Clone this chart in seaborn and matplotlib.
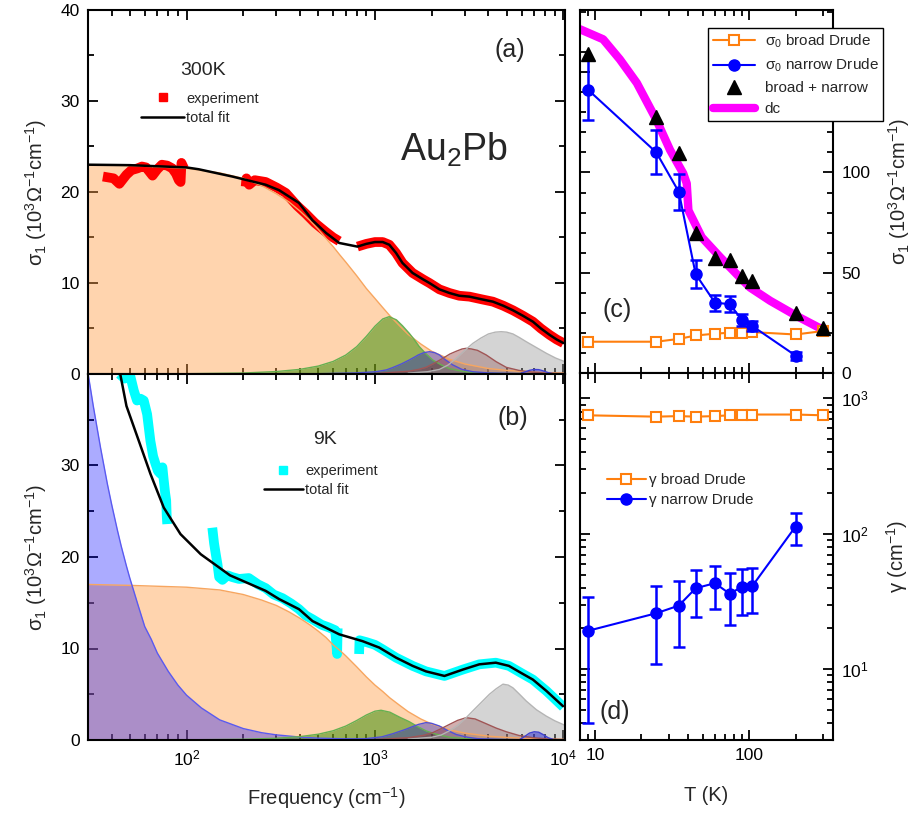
import matplotlib
matplotlib.use('Agg')
import matplotlib.pyplot as plt
from matplotlib.lines import Line2D
from matplotlib.ticker import MultipleLocator, FixedLocator, NullFormatter, FuncFormatter, LogLocator
import seaborn as sns

# ---------------- data ----------------
# broad Drude term, panels (a) 300 K and (b) 9 K  (cm-1, 10^3 Ohm-1 cm-1)
f_drude = [30, 50, 100, 150, 200, 250, 300, 350, 400, 450, 500, 550, 600, 650, 700, 800, 900, 1000, 1100,
           1200, 1350, 1500, 1750, 2000, 2500, 3000, 4000, 5000, 7000, 10000]
broad_a = [23.0, 22.9, 22.6, 22.1, 21.5, 20.7, 19.8, 18.9, 17.9, 16.9, 15.9, 14.9, 14.0, 13.1, 12.3, 10.8, 9.4,
           8.3, 7.3, 6.4, 5.3, 4.35, 3.3, 2.5, 1.6, 1.1, 0.6, 0.4, 0.2, 0.1]
broad_b = [17.0, 16.9, 16.7, 16.4, 15.9, 15.3, 14.7, 14.0, 13.3, 12.6, 11.9, 11.2, 10.4, 9.8, 9.2, 8.0, 6.9,
           6.0, 5.3, 4.6, 3.8, 3.1, 2.3, 1.75, 1.1, 0.75, 0.42, 0.28, 0.14, 0.07]

# narrow Drude term, panel (b)
f_narrow = [30, 32, 35, 38, 40, 43, 45, 48, 50, 55, 60, 65, 70, 80, 90, 100, 120, 150, 200, 250, 300, 400,
            500, 1000, 3000, 10000]
narrow_b = [40.1, 36.5, 31.9, 28.0, 25.8, 22.9, 21.2, 19.0, 17.7, 14.9, 12.4, 11.0, 9.5, 7.5, 6.0, 4.9, 3.5,
            2.2, 1.25, 0.8, 0.56, 0.32, 0.2, 0.05, 0.01, 0.0]

# Lorentz terms
f_green_a = [100, 200, 300, 400, 500, 600, 700, 800, 900, 1000, 1100, 1190, 1300, 1400, 1521, 1600, 1720,
             1850, 2025, 2250, 2483, 2900, 3310, 5000, 10000]
green_a = [0.03, 0.11, 0.27, 0.51, 0.87, 1.38, 2.08, 3.0, 4.13, 5.25, 6.05, 6.3, 5.95, 5.3, 4.47, 3.9, 3.0,
           2.3, 1.54, 1.0, 0.6, 0.3, 0.15, 0.05, 0.01]
f_green_b = [100, 200, 300, 400, 500, 600, 700, 800, 900, 1000, 1077, 1200, 1350, 1521, 1700, 1866, 2100,
             2483, 3000, 4000, 6000, 10000]
green_b = [0.02, 0.08, 0.19, 0.37, 0.63, 1.01, 1.52, 2.13, 2.73, 3.15, 3.25, 3.04, 2.5, 2.0, 1.42, 1.0, 0.65,
           0.3, 0.15, 0.07, 0.03, 0.01]

f_blue_a = [500, 800, 1012, 1150, 1240, 1380, 1521, 1620, 1700, 1820, 1945, 2070, 2197, 2350, 2587, 2900,
            3310, 4000, 6000, 10000]
blue_a = [0.03, 0.12, 0.25, 0.45, 0.7, 1.1, 1.54, 1.85, 2.1, 2.35, 2.45, 2.35, 2.1, 1.6, 1.0, 0.5, 0.25, 0.12,
          0.04, 0.01]
f_blue_b = [500, 900, 1090, 1250, 1458, 1600, 1700, 1866, 2000, 2197, 2450, 2700, 3100, 3500, 5000, 10000]
blue_b = [0.03, 0.15, 0.35, 0.7, 1.17, 1.5, 1.7, 1.9, 1.82, 1.53, 1.0, 0.6, 0.3, 0.15, 0.05, 0.01]

f_brown_a = [1000, 1500, 1700, 1866, 2050, 2290, 2500, 2700, 2900, 3048, 3250, 3500, 3890, 4400, 4977, 5800,
             6890, 8500, 10000]
brown_a = [0.05, 0.3, 0.5, 0.73, 1.15, 1.72, 2.2, 2.5, 2.75, 2.82, 2.75, 2.6, 2.1, 1.35, 0.73, 0.4, 0.2, 0.08,
           0.05]
f_brown_b = [1000, 1500, 1800, 2025, 2250, 2483, 2750, 3048, 3400, 3890, 4400, 4977, 5800, 6890, 8500, 10000]
brown_b = [0.05, 0.25, 0.5, 0.8, 1.25, 1.7, 2.15, 2.44, 2.3, 1.78, 1.3, 0.9, 0.5, 0.25, 0.1, 0.05]

f_grey_a = [1500, 1900, 2197, 2450, 2700, 3000, 3310, 3650, 4000, 4350, 4677, 5000, 5400, 5850, 6350, 7200,
            8130, 9100, 10200]
grey_a = [0.1, 0.25, 0.5, 1.0, 1.72, 2.6, 3.37, 3.95, 4.4, 4.6, 4.65, 4.6, 4.4, 4.0, 3.55, 2.9, 2.27, 1.75, 1.35]
f_grey_b = [1500, 2000, 2250, 2483, 2750, 3048, 3350, 3730, 4050, 4400, 4782, 5100, 5400, 5850, 6350, 7200,
            8130, 9000, 10200]
grey_b = [0.1, 0.3, 0.55, 1.0, 1.6, 2.44, 3.3, 4.26, 5.0, 5.6, 6.1, 6.0, 5.7, 5.0, 4.26, 3.3, 2.6, 2.1, 1.6]

f_small = [5800, 6200, 6600, 7000, 7400, 7800, 8300, 9000]
small_a = [0.0, 0.2, 0.4, 0.5, 0.48, 0.35, 0.15, 0.0]
small_b = [0.0, 0.35, 0.75, 0.9, 0.85, 0.6, 0.25, 0.0]

# total fits
f_fit_a = [30, 50, 100, 116, 175, 263, 310, 395, 466, 550, 646, 807, 900, 1000, 1100, 1192, 1294, 1400,
           1585, 1800, 1945, 2200, 2485, 2800, 3175, 3700, 4226, 4800, 5400, 6100, 6890, 7600, 8450, 9200, 10000]
fit_a = [23.0, 22.95, 22.7, 22.5, 21.7, 20.8, 20.2, 18.8, 16.9, 15.5, 14.4, 14.0, 14.3, 14.5, 14.5, 14.2, 13.3,
         12.2, 11.1, 10.4, 10.0, 9.3, 8.9, 8.6, 8.5, 8.2, 7.95, 7.5, 7.0, 6.4, 5.75, 5.0, 4.3, 3.8, 3.4]
f_fit_b = [44, 48, 55.8, 64.3, 75.7, 92.9, 119, 170, 263, 310, 395, 466, 646, 860, 1054, 1294, 1585, 1866,
           2338, 2930, 3580, 4380, 5140, 6000, 6890, 8130, 9950]
fit_b = [40.5, 36.5, 32.7, 29.1, 25.4, 22.5, 20.3, 18.0, 16.3, 15.4, 14.3, 13.0, 11.55, 10.8, 10.1, 9.0, 8.1,
         7.5, 7.0, 7.7, 8.27, 8.45, 8.1, 7.3, 6.6, 5.36, 3.7]

# experiment, in pieces (gaps in the measured ranges)
exp_a_f1 = [36, 41, 44, 48, 51, 55, 58, 61, 66, 70, 74, 79, 84, 88, 91, 93, 94, 97]
exp_a_v1 = [21.7, 21.5, 20.9, 21.9, 22.4, 22.6, 22.8, 22.7, 21.8, 22.5, 23.0, 22.9, 22.6, 22.0, 21.3, 21.1, 23.2,
            22.6]
exp_a_f2 = [206, 208, 215, 230, 263, 300, 336, 386, 430, 480, 550, 600, 646]
exp_a_v2 = [20.6, 21.5, 20.8, 21.3, 21.1, 20.5, 19.9, 18.5, 17.6, 16.6, 15.6, 15.0, 14.6]
exp_a_f3 = [807, 900, 1000, 1100, 1192, 1294, 1400, 1585, 1800, 1945, 2200, 2485, 2800, 3175, 3700, 4226,
            4800, 5400, 6100, 6890, 7600, 8450, 9200, 10000]
exp_a_v3 = [14.0, 14.3, 14.5, 14.5, 14.2, 13.3, 12.2, 11.1, 10.4, 10.0, 9.3, 8.9, 8.6, 8.5, 8.2, 7.95,
            7.5, 7.0, 6.4, 5.75, 5.0, 4.3, 3.8, 3.4]

exp_b_f1 = [44, 47, 50, 52.5, 54.6, 57, 59.3, 61.8, 64.3, 66.5, 68.4, 70.5, 72.7, 74.5, 75.7, 77, 78, 78.5, 79]
exp_b_v1 = [40.0, 39.5, 40.0, 38.2, 37.1, 37.3, 37.1, 35.6, 32.7, 31.0, 30.2, 29.4, 29.1, 29.8, 28.4, 27.0, 26.2,
            24.5, 23.6]
exp_b_f2 = [137, 140, 143, 146, 149, 155, 165, 175, 190, 214, 240, 263, 290, 323, 360, 395, 430, 466, 520,
            570, 615, 630, 634]
exp_b_v2 = [23.2, 21.5, 20.3, 19.2, 17.8, 17.5, 18.0, 17.8, 17.6, 17.7, 17.0, 16.6, 15.9, 15.5, 14.9, 14.3, 13.6,
            13.2, 12.6, 12.3, 12.0, 9.4, 12.2]
exp_b_f3 = [824, 828, 900, 1000, 1100, 1294, 1585, 1866, 2338, 2930, 3580, 4380, 5140, 6000, 6890, 8130, 9000,
            10000]
exp_b_v3 = [9.4, 10.9, 10.7, 10.4, 9.9, 9.0, 8.1, 7.5, 7.0, 7.7, 8.27, 8.45, 8.1, 7.3, 6.6, 5.36, 4.5, 3.6]

# panels (c) and (d)
T = [9, 25, 35, 45, 60, 75, 90, 105, 200, 300]
T_narrow = [9, 25, 35, 45, 60, 75, 90, 105, 200]
sigma_broad = [15.6, 15.6, 17.0, 18.7, 19.6, 20.1, 20.1, 20.4, 19.2, 20.9]
sigma_narrow = [141.3, 110.0, 90.3, 49.3, 35.1, 34.3, 26.4, 23.4, 8.7]
sigma_narrow_err = [15, 11, 9, 7, 4, 4, 3, 2.5, 2]
sigma_sum = [159.2, 127.6, 109.5, 69.7, 57.2, 56.4, 48.5, 45.7, 30.1, 22.6]
T_dc = [8, 11.3, 14.5, 18.7, 25, 30.7, 37.4, 39.4, 40.4, 49.3, 65, 83, 101.5, 137, 204, 299]
sigma_dc = [171.4, 166.4, 156.4, 144.6, 126.3, 111.2, 99.5, 94.5, 81.1, 67.7, 57.7, 49.3, 42.6, 36.0, 28.4, 21.7]

gamma_broad = [750, 733, 740, 733, 740, 750, 760, 760, 760, 750]
gamma_narrow = [19.2, 25.9, 29.5, 39.6, 43.2, 36.0, 40.8, 41.2, 113]
gamma_lo = [4.0, 10.9, 14.5, 24.2, 27.7, 21.2, 25.2, 26.2, 82.8]
gamma_hi = [34.4, 41.2, 44.9, 54.1, 57.9, 51.7, 55.3, 56.3, 141.6]

# ---------------- style ----------------
sns.set_theme(style='ticks')
plt.rcParams['font.family'] = ['Liberation Sans', 'DejaVu Sans']
plt.rcParams['mathtext.fontset'] = 'custom'
plt.rcParams['mathtext.rm'] = 'Liberation Sans'
plt.rcParams['mathtext.it'] = 'Liberation Sans:italic'
plt.rcParams['mathtext.default'] = 'regular'

ORANGE = '#FF7F0E'
BLUE = '#0000FF'
sig_label = 'σ$_1$ (10$^3$Ω$^{-1}$cm$^{-1}$)'


def style_axis(ax):
    ax.tick_params(which='both', direction='in', top=True, right=True, width=1.3,
                   colors='black', labelsize=12.5, pad=6)
    ax.tick_params(which='major', length=7)
    ax.tick_params(which='minor', length=4)
    for s in ax.spines.values():
        s.set_linewidth(1.5)
        s.set_color('black')


def peak(ax, f, v, fc, ec, alpha):
    ax.fill_between(f, 0, v, color=fc, alpha=alpha, lw=0)
    ax.plot(f, v, color=ec, lw=1)


fig = plt.figure(figsize=(9.1, 8.16), dpi=100)
ax_a = fig.add_axes([88 / 910, 1 - 374 / 816, 477 / 910, 364 / 816])
ax_b = fig.add_axes([88 / 910, 1 - 740 / 816, 477 / 910, 366 / 816])
ax_c = fig.add_axes([580 / 910, 1 - 373 / 816, 253 / 910, 363 / 816])
ax_d = fig.add_axes([580 / 910, 1 - 740 / 816, 253 / 910, 367 / 816])

# ---------------- left panels ----------------
panels = [
    (ax_a, broad_a, None, (f_green_a, green_a), (f_blue_a, blue_a), (f_brown_a, brown_a), (f_grey_a, grey_a),
     small_a, (f_fit_a, fit_a), [(exp_a_f1, exp_a_v1), (exp_a_f2, exp_a_v2), (exp_a_f3, exp_a_v3)], 'red'),
    (ax_b, broad_b, narrow_b, (f_green_b, green_b), (f_blue_b, blue_b), (f_brown_b, brown_b), (f_grey_b, grey_b),
     small_b, (f_fit_b, fit_b), [(exp_b_f1, exp_b_v1), (exp_b_f2, exp_b_v2), (exp_b_f3, exp_b_v3)], '#00FFFF'),
]
for ax, broad, narrow, green, blue, brown, grey, small, fit, exps, ecol in panels:
    for fx, vx in exps:
        ax.plot(fx, vx, color=ecol, lw=7, solid_capstyle='butt', solid_joinstyle='round')
    peak(ax, f_drude, broad, '#FF9A40', '#F7A660', 0.42)
    if narrow is not None:
        peak(ax, f_narrow, narrow, '#0000FF', '#5A5AF0', 0.33)
    peak(ax, green[0], green[1], '#2E8B00', '#66B050', 0.5)
    peak(ax, blue[0], blue[1], '#2020C0', '#5050D8', 0.4)
    peak(ax, brown[0], brown[1], '#8B2E2E', '#A05555', 0.38)
    peak(ax, grey[0], grey[1], '#999999', '#B5B5B5', 0.42)
    peak(ax, f_small, small, '#3030D0', '#4040D0', 0.55)
    sns.lineplot(x=fit[0], y=fit[1], ax=ax, color='black', lw=1.8, sort=False, estimator=None)
    ax.set_xscale('log')
    ax.set_xlim(30, 10200)
    ax.set_ylim(0, 40)
    ax.yaxis.set_minor_locator(MultipleLocator(5))
    ax.xaxis.set_minor_locator(LogLocator(base=10, subs=[2, 3, 4, 5, 6, 7, 8, 9]))
    ax.xaxis.set_minor_formatter(NullFormatter())
    style_axis(ax)
    ax.set_ylabel(sig_label, fontsize=14.5, labelpad=8)
    ax.set_xlabel('')

ax_a.yaxis.set_major_locator(MultipleLocator(10))
ax_a.tick_params(labelbottom=False)
ax_b.yaxis.set_major_locator(FixedLocator([0, 10, 20, 30]))
ax_b.set_xlabel('Frequency (cm$^{-1}$)', fontsize=14.5, labelpad=12)

ax_a.text(0.241, 0.835, '300K', transform=ax_a.transAxes, ha='center', va='center', fontsize=14)
ax_a.text(0.885, 0.89, '(a)', transform=ax_a.transAxes, ha='center', va='center', fontsize=18)
ax_a.text(0.767, 0.615, 'Au$_2$Pb', transform=ax_a.transAxes, ha='center', va='center', fontsize=27)
ax_b.text(0.891, 0.88, '(b)', transform=ax_b.transAxes, ha='center', va='center', fontsize=18)
ax_b.text(0.497, 0.82, '9K', transform=ax_b.transAxes, ha='center', va='center', fontsize=14)

leg_a = [Line2D([], [], color='red', marker='s', ls='none', ms=5.5), Line2D([], [], color='black', lw=1.8)]
ax_a.legend(leg_a, ['experiment', 'total fit'], loc='upper left', bbox_to_anchor=(0.112, 0.776),
            frameon=False, fontsize=10.5, borderpad=0, borderaxespad=0, handlelength=2.9,
            handletextpad=0.15, labelspacing=0.35)
leg_b = [Line2D([], [], color='#00FFFF', marker='s', ls='none', ms=5.5), Line2D([], [], color='black', lw=1.8)]
ax_b.legend(leg_b, ['experiment', 'total fit'], loc='upper left', bbox_to_anchor=(0.368, 0.754),
            frameon=False, fontsize=10.5, borderpad=0, borderaxespad=0, handlelength=2.7,
            handletextpad=0.15, labelspacing=0.35)

# ---------------- panel (c) ----------------
sns.lineplot(x=T_dc, y=sigma_dc, ax=ax_c, color='#FF00FF', lw=6, sort=False, estimator=None)
ax_c.plot(T, sigma_broad, color=ORANGE, lw=1.5, marker='s', ms=7, mfc='white', mec=ORANGE, mew=1.5)
ax_c.errorbar(T_narrow, sigma_narrow, yerr=sigma_narrow_err, color=BLUE, lw=1.5, marker='o', ms=8,
              capsize=4.5, capthick=1.8, elinewidth=1.8)
ax_c.plot(T, sigma_sum, ls='none', marker='^', ms=9.5, color='black')
ax_c.set_xscale('log')
ax_c.set_xlim(8, 350)
ax_c.set_ylim(0, 181)
ax_c.yaxis.set_major_locator(MultipleLocator(50))
ax_c.yaxis.set_major_formatter(FuncFormatter(lambda v, p: '' if v > 120 else '%d' % v))
ax_c.yaxis.set_minor_locator(MultipleLocator(10))
style_axis(ax_c)
ax_c.tick_params(labelbottom=False, labelleft=False, labelright=True)
ax_c.yaxis.set_label_position('right')
ax_c.set_ylabel(sig_label, fontsize=14.5, labelpad=11)
ax_c.set_xlabel('')
ax_c.text(0.146, 0.174, '(c)', transform=ax_c.transAxes, ha='center', va='center', fontsize=18)

leg_c = [Line2D([], [], color=ORANGE, lw=1.5, marker='s', ms=7, mfc='white', mec=ORANGE, mew=1.5),
         Line2D([], [], color=BLUE, lw=1.5, marker='o', ms=8),
         Line2D([], [], color='black', ls='none', marker='^', ms=9.5),
         Line2D([], [], color='#FF00FF', lw=6)]
lc = ax_c.legend(leg_c, ['σ$_0$ broad Drude', 'σ$_0$ narrow Drude', 'broad + narrow', 'dc'],
                 loc='upper left', bbox_to_anchor=(0.506, 0.95), fontsize=11, frameon=True, fancybox=False,
                 framealpha=1, borderaxespad=0, borderpad=0.3, handlelength=2.8, handletextpad=0.6,
                 labelspacing=0.45)
lc.get_frame().set_edgecolor('black')
lc.get_frame().set_linewidth(1.0)
lc.set_zorder(10)

# ---------------- panel (d) ----------------
ax_d.plot(T, gamma_broad, color=ORANGE, lw=1.5, marker='s', ms=7, mfc='white', mec=ORANGE, mew=1.5)
yerr_d = [[g - lo for g, lo in zip(gamma_narrow, gamma_lo)], [hi - g for g, hi in zip(gamma_narrow, gamma_hi)]]
ax_d.errorbar(T_narrow, gamma_narrow, yerr=yerr_d, color=BLUE, lw=1.5, marker='o', ms=8,
              capsize=4.5, capthick=1.8, elinewidth=1.8)
ax_d.set_xscale('log')
ax_d.set_yscale('log')
ax_d.set_xlim(8, 350)
ax_d.set_ylim(3, 1540)
style_axis(ax_d)
ax_d.tick_params(labelleft=False, labelright=True)
ax_d.xaxis.set_major_formatter(FuncFormatter(lambda v, p: '%d' % v))
ax_d.xaxis.set_minor_formatter(NullFormatter())
ax_d.yaxis.set_minor_formatter(NullFormatter())
ax_d.yaxis.set_label_position('right')
ax_d.set_ylabel('γ (cm$^{-1}$)', fontsize=14.5, labelpad=11)
ax_d.set_xlabel('T (K)', fontsize=14.5, labelpad=16)
ax_d.text(0.138, 0.076, '(d)', transform=ax_d.transAxes, ha='center', va='center', fontsize=18)
leg_d = [Line2D([], [], color=ORANGE, lw=1.5, marker='s', ms=7, mfc='white', mec=ORANGE, mew=1.5),
         Line2D([], [], color=BLUE, lw=1.5, marker='o', ms=8)]
ax_d.legend(leg_d, ['γ broad Drude', 'γ narrow Drude'], loc='upper left', bbox_to_anchor=(0.105, 0.727),
            frameon=False, fontsize=11, borderpad=0, borderaxespad=0, handlelength=2.6,
            handletextpad=0.2, labelspacing=0.4)

fig.savefig('out.png', dpi=100)
